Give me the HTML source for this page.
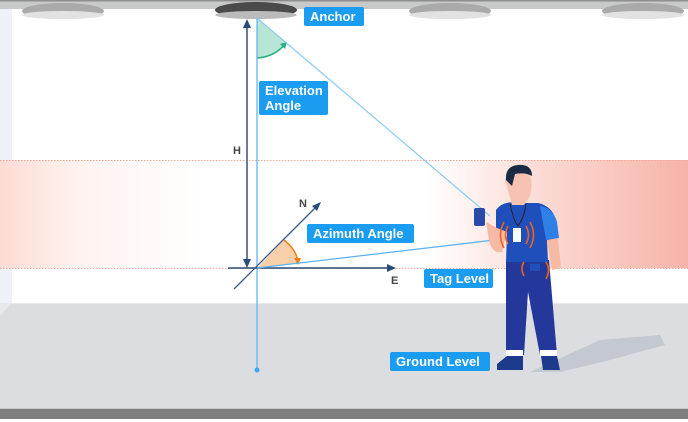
<!DOCTYPE html>
<html><head><meta charset="utf-8"><style>
body{margin:0;width:688px;height:422px;overflow:hidden;background:#fff;font-family:"Liberation Sans",sans-serif}
.lb{position:absolute;background:#1a9cf0;color:#fff;font-weight:bold;font-size:13px;border-radius:2px;padding:2px 6px;line-height:15px;white-space:nowrap}
</style></head><body>
<svg width="688" height="422" style="position:absolute;left:0;top:0">
<defs>
<linearGradient id="band" x1="0" x2="1">
<stop offset="0" stop-color="#fcdcd4"/><stop offset="0.12" stop-color="#fff3f0"/><stop offset="0.3" stop-color="#fff"/><stop offset="0.62" stop-color="#fff"/><stop offset="0.8" stop-color="#fbd8d1"/><stop offset="1" stop-color="#f6b3a8"/>
</linearGradient>
</defs>
<rect x="0" y="0" width="688" height="422" fill="#fff"/>
<rect x="0" y="9" width="12" height="294" fill="#eef1f6"/>
<rect x="0" y="160" width="688" height="108" fill="url(#band)"/>
<line x1="0" y1="160.5" x2="688" y2="160.5" stroke="#f3a89c" stroke-dasharray="1.5 1.5"/>
<line x1="0" y1="268.5" x2="688" y2="268.5" stroke="#f3a89c" stroke-dasharray="1.5 1.5"/>
<rect x="0" y="303" width="688" height="106" fill="#dcdde1"/>
<line x1="0" y1="303.5" x2="688" y2="303.5" stroke="#e8e9ec"/>
<polygon points="0,303 12,303 0,316" fill="#e6e8ec"/>
<rect x="0" y="409" width="688" height="10" fill="#7f7f7f"/>
<rect x="0" y="408" width="688" height="1" fill="#c4c4c4"/>
<rect x="0" y="0" width="688" height="9" fill="#c8cac9"/>
<rect x="0" y="0" width="688" height="1.5" fill="#8f8f8f"/>
<g fill="#aaa"><ellipse cx="63" cy="11" rx="41" ry="8"/><ellipse cx="450" cy="11" rx="41" ry="8"/><ellipse cx="643" cy="11" rx="41" ry="8"/></g>
<g fill="#e2e2e2"><ellipse cx="63" cy="15" rx="41" ry="4"/><ellipse cx="450" cy="15" rx="41" ry="4"/><ellipse cx="643" cy="15" rx="41" ry="4"/></g>
<ellipse cx="256" cy="10" rx="41" ry="8" fill="#4a4a4a"/>
<ellipse cx="256" cy="15" rx="41" ry="4" fill="#bbb"/>
<path d="M257 18 L257 58 Q275 57 286 43 Z" fill="#b7e6d6"/>
<path d="M257 58 Q275 57 286 43" stroke="#25b07f" stroke-width="1.5" fill="none"/>
<polygon points="287,42 280,44 285,49" fill="#25b07f"/>
<line x1="257" y1="18" x2="257" y2="370" stroke="#63b6f0" stroke-width="1.3"/>
<circle cx="257" cy="370" r="2.5" fill="#3fa6ee"/>
<line x1="257" y1="18" x2="490" y2="216" stroke="#8ccbf3" stroke-width="1.2"/>
<line x1="247" y1="26" x2="247" y2="262" stroke="#35527a" stroke-width="1.5"/>
<polygon points="247,19 243,28 251,28" fill="#2a4c78"/>
<polygon points="247,268 243,259 251,259" fill="#2a4c78"/>
<text x="233" y="154" font-size="11" font-weight="bold" fill="#444">H</text>
<path d="M257 268 L284 240 Q297 253 297 263 Z" fill="#f9cfa9"/>
<path d="M284 240 Q297 250 298 263" stroke="#f07d10" stroke-width="1.5" fill="none"/>
<polygon points="298,265 294,258 301,258" fill="#f07d10"/>
<line x1="228" y1="268" x2="388" y2="268" stroke="#2a4c78" stroke-width="1.5"/>
<polygon points="396,268 387,264 387,272" fill="#2a4c78"/>
<line x1="234" y1="289" x2="316" y2="207" stroke="#3a5a8c" stroke-width="1.3"/>
<polygon points="321,202 312,206 317,211" fill="#2a4c78"/>
<line x1="257" y1="268" x2="520" y2="237" stroke="#5fb3ef" stroke-width="1.3"/>
<text x="299" y="207" font-size="11" font-weight="bold" fill="#444">N</text>
<text x="391" y="284" font-size="11" font-weight="bold" fill="#444">E</text>
<polygon points="530,372 600,340 660,335 665,345 610,360 560,372" fill="#c4c8d0"/>
<path d="M506 260 L549 260 L557 355 L540 355 L528 292 L524 355 L506 355 Z" fill="#23389a"/>
<rect x="506" y="350" width="17" height="6" fill="#fff"/><rect x="540" y="350" width="17" height="6" fill="#fff"/>
<path d="M497 364 L507 356 L523 356 L523 370 L497 370 Z" fill="#1e3a8c"/>
<path d="M541 356 L557 356 L560 370 L543 370 Z" fill="#1e3a8c"/>
<path d="M496 210 Q503 200 520 203 L538 203 Q552 206 556 220 L558 240 L547 241 L548 262 L506 262 L507 232 L496 228 Z" fill="#1f4fba"/>
<path d="M540 206 Q553 208 557 222 L559 238 L546 240 Z" fill="#2f7fe6"/>
<path d="M547 240 L558 238 L561 268 L552 270 Z" fill="#f6b9a6"/>
<path d="M497 228 L507 232 L502 252 Q492 254 489 240 L486 222 Z" fill="#f6b9a6"/>
<rect x="474" y="208" width="11" height="18" rx="2" fill="#2a4aa8"/>
<rect x="530" y="264" width="10" height="7" fill="#1f4fba"/>
<path d="M505 180 Q510 166 524 168 Q535 176 530 196 L524 205 L512 205 Z" fill="#f6c3b2"/>
<path d="M506 180 Q505 166 518 165 Q532 164 532 176 Q525 172 515 174 L512 186 Z" fill="#1b2a44"/>
<path d="M510 204 Q514 222 518 226 Q524 218 526 204" stroke="#222" fill="none"/>
<rect x="513" y="228" width="8" height="14" fill="#fff"/>
<g stroke="#f0631a" stroke-width="1.6" fill="none">
<path d="M508 226 Q503 235 508 244"/><path d="M504 222 Q497 235 504 248"/>
<path d="M526 226 Q531 235 526 244"/><path d="M530 222 Q537 235 530 248"/>
<path d="M524 262 Q520 268 524 276"/><path d="M546 262 Q551 270 546 279"/>
</g>
</svg>
<div class="lb" style="left:304px;top:7px;width:48px;">Anchor</div>
<div class="lb" style="left:259px;top:81px;width:57px;">Elevation<br>Angle</div>
<div class="lb" style="left:307px;top:224px;width:95px;">Azimuth Angle</div>
<div class="lb" style="left:424px;top:269px;width:57px;">Tag Level</div>
<div class="lb" style="left:390px;top:352px;width:88px;">Ground Level</div>
</body></html>
